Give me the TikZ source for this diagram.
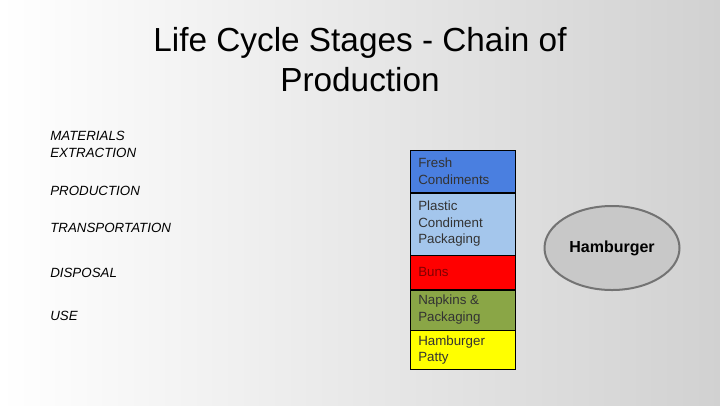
\documentclass[tikz,border=0pt]{standalone}
\usepackage{fontspec}
\setmainfont{Liberation Sans}
\usetikzlibrary{positioning}
\usetikzlibrary{shapes.geometric}
\definecolor{freshblue}{HTML}{4A7FE0}
\definecolor{plasticblue}{HTML}{A4C6EC}
\definecolor{bunred}{HTML}{FF0000}
\definecolor{napkingreen}{HTML}{8AA646}
\definecolor{pattyyellow}{HTML}{FFFF00}
\definecolor{labelgray}{HTML}{333333}
\definecolor{burgergray}{HTML}{C8C8C8}
\begin{document}
\begin{tikzpicture}[x=0.75pt, y=-0.75pt]
        \shade[left color=white, right color=black!18] (0,0) rectangle (720,405);
        \useasboundingbox (0,0) rectangle (720,405);
        \node[font=\fontsize{25}{30}\selectfont, align=center] (title) at (360,60) {Life Cycle Stages - Chain of\\Production};
        \begin{scope}[every node/.style={anchor=north west, font=\itshape\fontsize{10}{12.5}\selectfont, align=left, inner sep=0pt}]
            \node at (50,131) (materials) {MATERIALS\\EXTRACTION};
            \node at (50,186) (production) {PRODUCTION};
            \node at (50,223) (transport) {TRANSPORTATION};
            \node at (50,268) (disposal) {DISPOSAL};
            \node at (50,311) (use) {USE};
        \end{scope}
        \begin{scope}[every node/.style={draw, 
            anchor=north west,
            text=labelgray,
            text width=105*0.75pt - 12pt,
            inner xsep=6pt,
            inner ysep=3pt,
            align=flush left,
            font=\fontsize{10}{12.5}\selectfont}]
            \node[fill=freshblue, minimum height=42*0.75pt] at (410,150) (fresh) {Fresh\\Condiments};
            \node[fill=plasticblue, minimum height=62*0.75pt] at (fresh.south west) (plastic) {Plastic\\Condiment\\Packaging};
            \node[fill=bunred, text=red!50!black, minimum height=34*0.75pt] at (plastic.south west) (buns) {Buns};
            \node[fill=napkingreen, minimum height=40*0.75pt] at (buns.south west) (napkins) {Napkins \&\\Packaging};
            \node[fill=pattyyellow, minimum height=39*0.75pt] at (napkins.south west) (patty) {Hamburger\\Patty};
        \end{scope}
        \node[ellipse, draw=black!55, line width=1.5pt, fill=burgergray, minimum width=135*0.75pt, minimum height=84*0.75pt, font=\bfseries\fontsize{12}{14}\selectfont] at (612,248) (hamburger) {Hamburger};
    \end{tikzpicture}
\end{document}
